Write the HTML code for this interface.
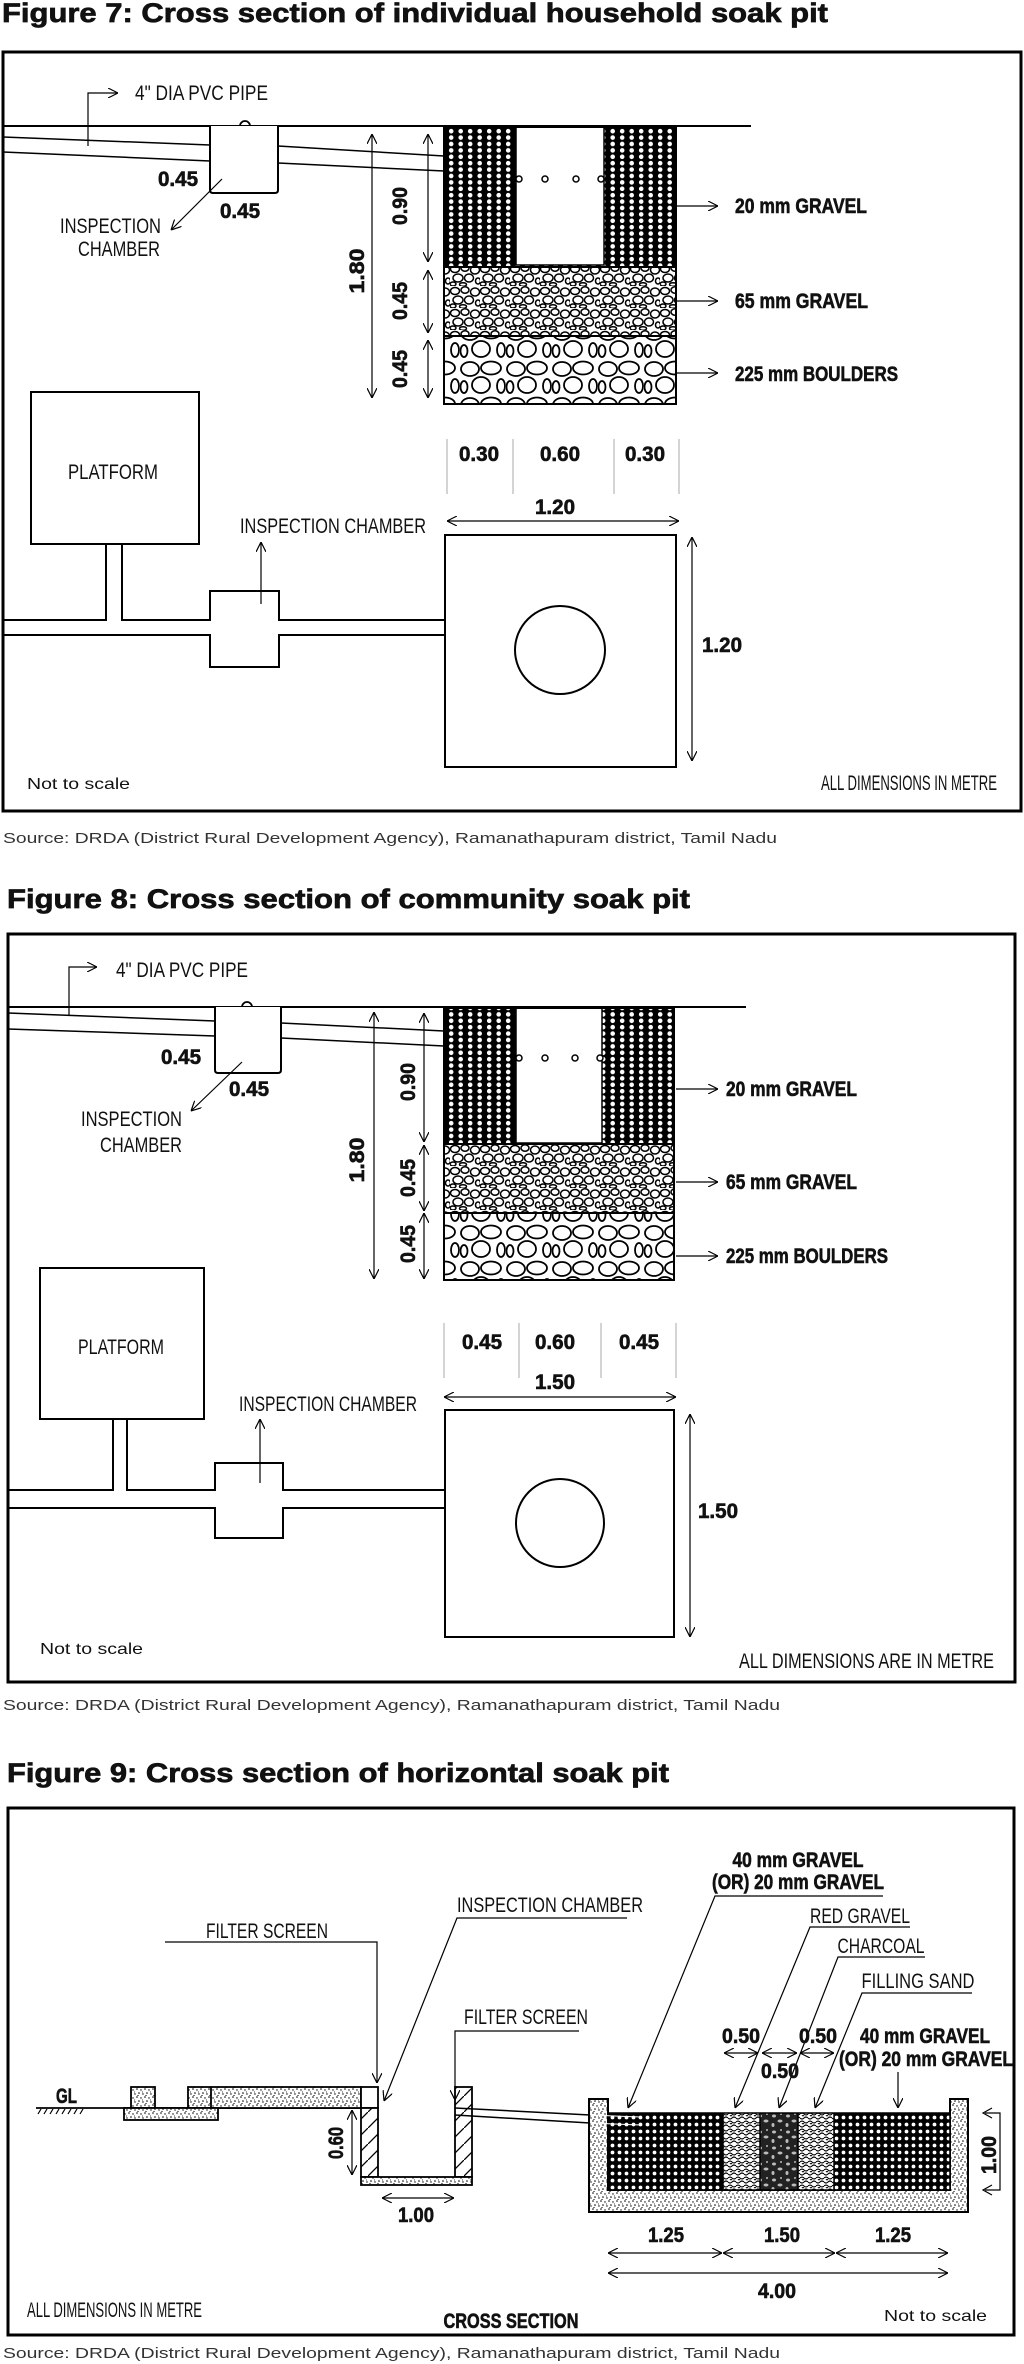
<!DOCTYPE html>
<html><head><meta charset="utf-8"><style>
html,body{margin:0;padding:0;background:#fff}
svg{display:block}
text{font-family:"Liberation Sans Narrow","Liberation Sans",sans-serif;fill:#111}
.t{font-family:"Liberation Sans",sans-serif;font-weight:bold;font-size:27px;stroke:#111;stroke-width:.7px}
.s{font-family:"Liberation Sans",sans-serif;font-size:15px;fill:#333}
.n{font-size:21px}
.b{font-size:21px;font-weight:bold;stroke:#111;stroke-width:.6px}
.r{font-family:"Liberation Sans",sans-serif;font-size:16px}
</style></head><body>
<svg width="1024" height="2364" viewBox="0 0 1024 2364" xmlns="http://www.w3.org/2000/svg">
<defs>
<pattern id="g20" patternUnits="userSpaceOnUse" width="9.5" height="6.4"><rect width="9.5" height="6.4" fill="#000"/><circle cx="4.7" cy="3.2" r="2.3" fill="#fff"/></pattern>
<pattern id="g9" patternUnits="userSpaceOnUse" width="7" height="7"><rect width="7" height="7" fill="#000"/><circle cx="3.5" cy="3.5" r="1.9" fill="#fff"/></pattern>
<pattern id="g65" patternUnits="userSpaceOnUse" width="30" height="22"><rect width="30" height="22" fill="#fff"/><g fill="#fff" stroke="#000" stroke-width="1.5"><ellipse cx="5" cy="5" rx="4.5" ry="3.5"/><ellipse cx="15" cy="4" rx="4" ry="3.2"/><ellipse cx="25" cy="6" rx="4.5" ry="4"/><ellipse cx="8" cy="14" rx="5" ry="4"/><ellipse cx="19" cy="14" rx="4.5" ry="4"/><ellipse cx="28" cy="17" rx="2.5" ry="3"/><ellipse cx="3" cy="20" rx="3" ry="2"/><ellipse cx="13" cy="20.5" rx="3.5" ry="1.8"/></g></pattern>
<pattern id="bld" patternUnits="userSpaceOnUse" width="46" height="36"><rect width="46" height="36" fill="#fff"/><g fill="#fff" stroke="#000" stroke-width="1.8"><ellipse cx="10" cy="9" rx="9" ry="7"/><ellipse cx="31" cy="8" rx="10" ry="6.5"/><ellipse cx="21" cy="25" rx="9" ry="8"/><ellipse cx="41" cy="26" rx="4" ry="7"/><ellipse cx="4" cy="27" rx="3.5" ry="6"/></g></pattern>
<pattern id="snd" patternUnits="userSpaceOnUse" width="8" height="8"><rect width="8" height="8" fill="#fff"/><g fill="#000"><circle cx="1" cy="1" r=".8"/><circle cx="5" cy="2" r=".7"/><circle cx="3" cy="5" r=".8"/><circle cx="7" cy="6" r=".7"/><circle cx="2" cy="7.5" r=".6"/><circle cx="6.5" cy="4" r=".5"/></g></pattern>
<pattern id="red" patternUnits="userSpaceOnUse" width="8" height="8"><rect width="8" height="8" fill="#fff"/><path d="M0 2 q2 -2 4 0 t4 0 M0 6 q2 2 4 0 t4 0 M2 4 q1 -1 2 0" stroke="#000" stroke-width="1.1" fill="none"/></pattern>
<pattern id="chr" patternUnits="userSpaceOnUse" width="14" height="16"><rect width="14" height="16" fill="#222"/><g fill="#bbb"><ellipse cx="4" cy="4" rx="2" ry="1.5"/><ellipse cx="10" cy="9" rx="2.5" ry="1.5"/><ellipse cx="3" cy="13" rx="1.5" ry="2"/><circle cx="11" cy="2" r="1"/></g></pattern>
<pattern id="hat" patternUnits="userSpaceOnUse" width="16" height="16"><rect width="16" height="16" fill="#fff"/><path d="M0 16 L16 0" stroke="#000" stroke-width="1.3"/></pattern>
<marker id="a" viewBox="0 0 10 10" refX="10" refY="5" markerWidth="10" markerHeight="10" markerUnits="userSpaceOnUse" orient="auto-start-reverse"><path d="M0 0 L10 5 L0 10" fill="none" stroke="#000" stroke-width="1.2"/></marker>
</defs>

<!-- ============ FIGURE 7 ============ -->
<text class="t" x="2" y="22" textLength="826" lengthAdjust="spacingAndGlyphs">Figure 7: Cross section of individual household soak pit</text>
<rect x="3" y="52" width="1018" height="759" fill="none" stroke="#000" stroke-width="3"/>
<g stroke="#000" fill="none" stroke-width="1.5">
<line x1="3" y1="126" x2="751" y2="126" stroke-width="2"/>
<line x1="3" y1="137" x2="210" y2="145"/><line x1="3" y1="152" x2="210" y2="161"/>
<line x1="278" y1="146" x2="444" y2="156"/><line x1="278" y1="163" x2="444" y2="171"/>
<path d="M210 126 V190 Q210 193 213 193 H275 Q278 193 278 190 V126" fill="#fff" stroke-width="2"/>
<path d="M240 126 A5 5 0 0 1 250 126" stroke-width="1.8"/>
<polyline points="88,146 88,93 118,93" marker-end="url(#a)" stroke-width="1.2"/>
<line x1="222" y1="179" x2="171" y2="230" marker-end="url(#a)" stroke-width="1.2"/>
</g>
<text class="n" x="135" y="100" textLength="133" lengthAdjust="spacingAndGlyphs">4" DIA PVC PIPE</text>
<text class="b" x="158" y="186" textLength="40" lengthAdjust="spacingAndGlyphs">0.45</text>
<text class="b" x="220" y="218" textLength="40" lengthAdjust="spacingAndGlyphs">0.45</text>
<text class="n" x="60" y="233" textLength="101" lengthAdjust="spacingAndGlyphs">INSPECTION</text>
<text class="n" x="78" y="256" textLength="82" lengthAdjust="spacingAndGlyphs">CHAMBER</text>
<rect x="444" y="127" width="232" height="140" fill="url(#g20)"/>
<rect x="444" y="267" width="232" height="69" fill="url(#g65)"/>
<rect x="444" y="336" width="232" height="68" fill="url(#bld)"/>
<rect x="516" y="127" width="88" height="138" fill="#fff" stroke="#000" stroke-width="1.5"/>
<g fill="#fff" stroke="#000" stroke-width="1.5"><circle cx="519" cy="179" r="3"/><circle cx="545" cy="179" r="3"/><circle cx="576" cy="179" r="3"/><circle cx="601" cy="179" r="3"/></g>
<g stroke="#000" fill="none" stroke-width="2">
<rect x="444" y="127" width="232" height="277"/>
<line x1="444" y1="267" x2="676" y2="267"/><line x1="444" y1="336" x2="676" y2="336"/>
</g>
<g stroke="#000" stroke-width="1.2" fill="none">
<line x1="372" y1="134" x2="372" y2="398" marker-start="url(#a)" marker-end="url(#a)"/>
<line x1="428" y1="134" x2="428" y2="262" marker-start="url(#a)" marker-end="url(#a)"/>
<line x1="428" y1="270" x2="428" y2="333" marker-start="url(#a)" marker-end="url(#a)"/>
<line x1="428" y1="340" x2="428" y2="398" marker-start="url(#a)" marker-end="url(#a)"/>
<line x1="676" y1="206" x2="718" y2="206" marker-end="url(#a)"/>
<line x1="676" y1="301" x2="718" y2="301" marker-end="url(#a)"/>
<line x1="676" y1="373" x2="718" y2="373" marker-end="url(#a)"/>
<line x1="447" y1="521" x2="679" y2="521" marker-start="url(#a)" marker-end="url(#a)"/>
<line x1="692" y1="537" x2="692" y2="761" marker-start="url(#a)" marker-end="url(#a)"/>
</g>
<g stroke="#aaa" stroke-width="1"><line x1="447" y1="439" x2="447" y2="494"/><line x1="513" y1="439" x2="513" y2="494"/><line x1="614" y1="439" x2="614" y2="494"/><line x1="679" y1="439" x2="679" y2="494"/></g>
<text class="b" font-size="23" transform="translate(364,271) rotate(-90)" text-anchor="middle" textLength="45" lengthAdjust="spacingAndGlyphs">1.80</text>
<text class="b" transform="translate(407,206) rotate(-90)" text-anchor="middle" textLength="38" lengthAdjust="spacingAndGlyphs">0.90</text>
<text class="b" transform="translate(407,301) rotate(-90)" text-anchor="middle" textLength="38" lengthAdjust="spacingAndGlyphs">0.45</text>
<text class="b" transform="translate(407,369) rotate(-90)" text-anchor="middle" textLength="38" lengthAdjust="spacingAndGlyphs">0.45</text>
<text class="b" x="735" y="213" textLength="132" lengthAdjust="spacingAndGlyphs">20 mm GRAVEL</text>
<text class="b" x="735" y="308" textLength="133" lengthAdjust="spacingAndGlyphs">65 mm GRAVEL</text>
<text class="b" x="735" y="381" textLength="163" lengthAdjust="spacingAndGlyphs">225 mm BOULDERS</text>
<text class="b" x="479" y="461" text-anchor="middle" textLength="40" lengthAdjust="spacingAndGlyphs">0.30</text>
<text class="b" x="560" y="461" text-anchor="middle" textLength="40" lengthAdjust="spacingAndGlyphs">0.60</text>
<text class="b" x="645" y="461" text-anchor="middle" textLength="40" lengthAdjust="spacingAndGlyphs">0.30</text>
<text class="b" x="555" y="514" text-anchor="middle" textLength="40" lengthAdjust="spacingAndGlyphs">1.20</text>
<text class="b" x="722" y="652" text-anchor="middle" textLength="40" lengthAdjust="spacingAndGlyphs">1.20</text>
<g stroke="#000" fill="none" stroke-width="2">
<rect x="445" y="535" width="231" height="232"/>
<ellipse cx="560" cy="650" rx="45" ry="44"/>
<rect x="31" y="392" width="168" height="152"/>
<path d="M3 620 H106 V544 M122 544 V620 H210 V591 H279 V620 H445 M3 635 H210 V667 H279 V635 H445"/>
</g>
<line x1="261" y1="604" x2="261" y2="542" stroke="#000" stroke-width="1.2" marker-end="url(#a)"/>
<text class="n" x="113" y="479" text-anchor="middle" textLength="90" lengthAdjust="spacingAndGlyphs">PLATFORM</text>
<text class="n" x="333" y="533" text-anchor="middle" textLength="186" lengthAdjust="spacingAndGlyphs">INSPECTION CHAMBER</text>
<text class="r" x="27" y="789" textLength="103" lengthAdjust="spacingAndGlyphs">Not to scale</text>
<text class="n" font-size="17" x="997" y="790" text-anchor="end" textLength="176" lengthAdjust="spacingAndGlyphs">ALL DIMENSIONS IN METRE</text>
<text class="s" x="3" y="843" textLength="774" lengthAdjust="spacingAndGlyphs">Source: DRDA (District Rural Development Agency), Ramanathapuram district, Tamil Nadu</text>

<!-- ============ FIGURE 8 ============ -->
<text class="t" x="7" y="908" textLength="683" lengthAdjust="spacingAndGlyphs">Figure 8: Cross section of community soak pit</text>
<rect x="8" y="934" width="1007" height="748" fill="none" stroke="#000" stroke-width="3"/>
<g stroke="#000" fill="none" stroke-width="1.5">
<line x1="8" y1="1007" x2="746" y2="1007" stroke-width="2"/>
<line x1="8" y1="1013" x2="215" y2="1021"/><line x1="8" y1="1029" x2="215" y2="1036"/>
<line x1="281" y1="1023" x2="444" y2="1031"/><line x1="281" y1="1038" x2="444" y2="1046"/>
<path d="M215 1007 V1070 Q215 1073 218 1073 H278 Q281 1073 281 1070 V1007" fill="#fff" stroke-width="2"/>
<path d="M242 1007 A5 5 0 0 1 252 1007" stroke-width="1.8"/>
<polyline points="69,1016 69,967 97,967" marker-end="url(#a)" stroke-width="1.2"/>
<line x1="242" y1="1062" x2="191" y2="1111" marker-end="url(#a)" stroke-width="1.2"/>
</g>
<text class="n" x="116" y="977" textLength="132" lengthAdjust="spacingAndGlyphs">4" DIA PVC PIPE</text>
<text class="b" x="161" y="1064" textLength="40" lengthAdjust="spacingAndGlyphs">0.45</text>
<text class="b" x="229" y="1096" textLength="40" lengthAdjust="spacingAndGlyphs">0.45</text>
<text class="n" x="81" y="1126" textLength="101" lengthAdjust="spacingAndGlyphs">INSPECTION</text>
<text class="n" x="100" y="1152" textLength="82" lengthAdjust="spacingAndGlyphs">CHAMBER</text>
<rect x="444" y="1008" width="230" height="136" fill="url(#g20)"/>
<rect x="444" y="1144" width="230" height="69" fill="url(#g65)"/>
<rect x="444" y="1213" width="230" height="67" fill="url(#bld)"/>
<rect x="516" y="1008" width="86" height="135" fill="#fff" stroke="#000" stroke-width="1.5"/>
<g fill="#fff" stroke="#000" stroke-width="1.5"><circle cx="519" cy="1058" r="3"/><circle cx="545" cy="1058" r="3"/><circle cx="575" cy="1058" r="3"/><circle cx="600" cy="1058" r="3"/></g>
<g stroke="#000" fill="none" stroke-width="2">
<rect x="444" y="1008" width="230" height="272"/>
<line x1="444" y1="1144" x2="674" y2="1144"/><line x1="444" y1="1213" x2="674" y2="1213"/>
</g>
<g stroke="#000" stroke-width="1.2" fill="none">
<line x1="374" y1="1012" x2="374" y2="1279" marker-start="url(#a)" marker-end="url(#a)"/>
<line x1="424" y1="1013" x2="424" y2="1142" marker-start="url(#a)" marker-end="url(#a)"/>
<line x1="424" y1="1145" x2="424" y2="1211" marker-start="url(#a)" marker-end="url(#a)"/>
<line x1="424" y1="1213" x2="424" y2="1279" marker-start="url(#a)" marker-end="url(#a)"/>
<line x1="676" y1="1089" x2="718" y2="1089" marker-end="url(#a)"/>
<line x1="676" y1="1182" x2="718" y2="1182" marker-end="url(#a)"/>
<line x1="676" y1="1256" x2="718" y2="1256" marker-end="url(#a)"/>
<line x1="444" y1="1397" x2="676" y2="1397" marker-start="url(#a)" marker-end="url(#a)"/>
<line x1="690" y1="1414" x2="690" y2="1637" marker-start="url(#a)" marker-end="url(#a)"/>
</g>
<g stroke="#aaa" stroke-width="1"><line x1="444" y1="1323" x2="444" y2="1378"/><line x1="519" y1="1323" x2="519" y2="1378"/><line x1="601" y1="1323" x2="601" y2="1378"/><line x1="676" y1="1323" x2="676" y2="1378"/></g>
<text class="b" font-size="23" transform="translate(364,1160) rotate(-90)" text-anchor="middle" textLength="45" lengthAdjust="spacingAndGlyphs">1.80</text>
<text class="b" transform="translate(415,1082) rotate(-90)" text-anchor="middle" textLength="38" lengthAdjust="spacingAndGlyphs">0.90</text>
<text class="b" transform="translate(415,1178) rotate(-90)" text-anchor="middle" textLength="38" lengthAdjust="spacingAndGlyphs">0.45</text>
<text class="b" transform="translate(415,1244) rotate(-90)" text-anchor="middle" textLength="38" lengthAdjust="spacingAndGlyphs">0.45</text>
<text class="b" x="726" y="1096" textLength="131" lengthAdjust="spacingAndGlyphs">20 mm GRAVEL</text>
<text class="b" x="726" y="1189" textLength="131" lengthAdjust="spacingAndGlyphs">65 mm GRAVEL</text>
<text class="b" x="726" y="1263" textLength="162" lengthAdjust="spacingAndGlyphs">225 mm BOULDERS</text>
<text class="b" x="482" y="1349" text-anchor="middle" textLength="40" lengthAdjust="spacingAndGlyphs">0.45</text>
<text class="b" x="555" y="1349" text-anchor="middle" textLength="40" lengthAdjust="spacingAndGlyphs">0.60</text>
<text class="b" x="639" y="1349" text-anchor="middle" textLength="40" lengthAdjust="spacingAndGlyphs">0.45</text>
<text class="b" x="555" y="1389" text-anchor="middle" textLength="40" lengthAdjust="spacingAndGlyphs">1.50</text>
<text class="b" x="718" y="1518" text-anchor="middle" textLength="40" lengthAdjust="spacingAndGlyphs">1.50</text>
<g stroke="#000" fill="none" stroke-width="2">
<rect x="445" y="1410" width="229" height="227"/>
<ellipse cx="560" cy="1523" rx="44" ry="44"/>
<rect x="40" y="1268" width="164" height="151"/>
<path d="M8 1490 H113 V1419 M127 1419 V1490 H215 V1463 H283 V1490 H445 M8 1508 H215 V1538 H283 V1508 H445"/>
</g>
<line x1="260" y1="1483" x2="260" y2="1419" stroke="#000" stroke-width="1.2" marker-end="url(#a)"/>
<text class="n" x="121" y="1354" text-anchor="middle" textLength="86" lengthAdjust="spacingAndGlyphs">PLATFORM</text>
<text class="n" x="328" y="1411" text-anchor="middle" textLength="178" lengthAdjust="spacingAndGlyphs">INSPECTION CHAMBER</text>
<text class="r" x="40" y="1654" textLength="103" lengthAdjust="spacingAndGlyphs">Not to scale</text>
<text class="n" font-size="21" x="994" y="1668" text-anchor="end" textLength="255" lengthAdjust="spacingAndGlyphs">ALL DIMENSIONS ARE IN METRE</text>
<text class="s" x="3" y="1710" textLength="777" lengthAdjust="spacingAndGlyphs">Source: DRDA (District Rural Development Agency), Ramanathapuram district, Tamil Nadu</text>

<!-- ============ FIGURE 9 ============ -->
<text class="t" x="7" y="1782" textLength="662" lengthAdjust="spacingAndGlyphs">Figure 9: Cross section of horizontal soak pit</text>
<rect x="8" y="1808" width="1006" height="527" fill="none" stroke="#000" stroke-width="3"/>
<text class="b" x="56" y="2103" textLength="21" lengthAdjust="spacingAndGlyphs">GL</text>
<g stroke="#000" stroke-width="1.2"><line x1="36" y1="2108" x2="362" y2="2108" stroke-width="1.8"/>
<path d="M38 2114 l3 -5 M44 2114 l3 -5 M50 2114 l3 -5 M56 2114 l3 -5 M62 2114 l3 -5 M68 2114 l3 -5 M74 2114 l3 -5 M80 2114 l3 -5" fill="none"/></g>
<g stroke="#000" stroke-width="1.8">
<rect x="131" y="2087" width="24" height="21" fill="url(#snd)"/>
<rect x="188" y="2087" width="173" height="21" fill="url(#snd)"/>
<line x1="211" y1="2087" x2="211" y2="2108"/>
<rect x="124" y="2108" width="94" height="12" fill="url(#snd)"/>
<rect x="361" y="2087" width="17" height="21" fill="#fff"/>
<rect x="361" y="2108" width="17" height="69" fill="url(#hat)"/>
<rect x="455" y="2087" width="17" height="90" fill="url(#hat)"/>
<rect x="361" y="2177" width="111" height="8" fill="url(#snd)"/>
</g>
<g stroke="#000" stroke-width="1.5" fill="none">
<path d="M455 2108 L590 2115 M455 2115 L590 2123"/>
</g>
<path d="M589 2099 H608 V2190 H950 V2099 H968 V2212 H589 Z" fill="url(#snd)" stroke="#000" stroke-width="2"/>
<rect x="608" y="2113" width="115" height="77" fill="url(#g9)"/>
<rect x="723" y="2113" width="37" height="77" fill="url(#red)"/>
<rect x="760" y="2113" width="38" height="77" fill="url(#chr)"/>
<rect x="798" y="2113" width="36" height="77" fill="url(#red)"/>
<rect x="834" y="2113" width="116" height="77" fill="url(#g9)"/>
<g stroke="#000" stroke-width="1.5" fill="none"><rect x="608" y="2113" width="342" height="77"/><line x1="723" y1="2113" x2="723" y2="2190"/><line x1="760" y1="2113" x2="760" y2="2190"/><line x1="798" y1="2113" x2="798" y2="2190"/><line x1="834" y1="2113" x2="834" y2="2190"/>
<path d="M590 2115 L640 2117 M590 2123 L640 2125" stroke="#fff" stroke-width="1"/></g>
<g stroke="#000" stroke-width="1.2" fill="none">
<polyline points="165,1942 377,1942 377,2083" marker-end="url(#a)"/>
<polyline points="627,1918 457,1918 384,2101" marker-end="url(#a)"/>
<polyline points="579,2031 455,2031 455,2100" marker-end="url(#a)"/>
<polyline points="883,1896 715,1896 628,2108" marker-end="url(#a)"/>
<polyline points="910,1927 810,1927 735,2108" marker-end="url(#a)"/>
<polyline points="925,1957 838,1957 779,2108" marker-end="url(#a)"/>
<polyline points="972,1993 862,1993 815,2108" marker-end="url(#a)"/>
<line x1="898" y1="2072" x2="898" y2="2108" marker-end="url(#a)"/>
<line x1="724" y1="2053" x2="758" y2="2053" marker-start="url(#a)" marker-end="url(#a)"/>
<line x1="762" y1="2053" x2="797" y2="2053" marker-start="url(#a)" marker-end="url(#a)"/>
<line x1="800" y1="2053" x2="834" y2="2053" marker-start="url(#a)" marker-end="url(#a)"/>
<polyline points="985,2113 1000,2113 1000,2190 985,2190"/>
<path d="M992 2108 L983 2113 L992 2118 M992 2185 L983 2190 L992 2195"/>
<line x1="352" y1="2110" x2="352" y2="2175" marker-start="url(#a)" marker-end="url(#a)"/>
<line x1="382" y1="2198" x2="454" y2="2198" marker-start="url(#a)" marker-end="url(#a)"/>
<line x1="608" y1="2253" x2="722" y2="2253" marker-start="url(#a)" marker-end="url(#a)"/>
<line x1="723" y1="2253" x2="835" y2="2253" marker-start="url(#a)" marker-end="url(#a)"/>
<line x1="836" y1="2253" x2="948" y2="2253" marker-start="url(#a)" marker-end="url(#a)"/>
<line x1="608" y1="2273" x2="948" y2="2273" marker-start="url(#a)" marker-end="url(#a)"/>
</g>
<text class="n" x="267" y="1938" text-anchor="middle" textLength="122" lengthAdjust="spacingAndGlyphs">FILTER SCREEN</text>
<text class="n" x="550" y="1912" text-anchor="middle" textLength="186" lengthAdjust="spacingAndGlyphs">INSPECTION CHAMBER</text>
<text class="n" x="526" y="2024" text-anchor="middle" textLength="124" lengthAdjust="spacingAndGlyphs">FILTER SCREEN</text>
<text class="b" x="798" y="1867" text-anchor="middle" textLength="131" lengthAdjust="spacingAndGlyphs">40 mm GRAVEL</text>
<text class="b" x="798" y="1889" text-anchor="middle" textLength="172" lengthAdjust="spacingAndGlyphs">(OR) 20 mm GRAVEL</text>
<text class="n" x="860" y="1923" text-anchor="middle" textLength="100" lengthAdjust="spacingAndGlyphs">RED GRAVEL</text>
<text class="n" x="881" y="1953" text-anchor="middle" textLength="87" lengthAdjust="spacingAndGlyphs">CHARCOAL</text>
<text class="n" x="918" y="1988" text-anchor="middle" textLength="113" lengthAdjust="spacingAndGlyphs">FILLING SAND</text>
<text class="b" x="741" y="2043" text-anchor="middle" textLength="38" lengthAdjust="spacingAndGlyphs">0.50</text>
<text class="b" x="818" y="2043" text-anchor="middle" textLength="38" lengthAdjust="spacingAndGlyphs">0.50</text>
<text class="b" x="780" y="2078" text-anchor="middle" textLength="38" lengthAdjust="spacingAndGlyphs">0.50</text>
<text class="b" x="925" y="2043" text-anchor="middle" textLength="130" lengthAdjust="spacingAndGlyphs">40 mm GRAVEL</text>
<text class="b" x="926" y="2066" text-anchor="middle" textLength="174" lengthAdjust="spacingAndGlyphs">(OR) 20 mm GRAVEL</text>
<text class="b" transform="translate(996,2155) rotate(-90)" text-anchor="middle" textLength="38" lengthAdjust="spacingAndGlyphs">1.00</text>
<text class="b" transform="translate(343,2143) rotate(-90)" text-anchor="middle" textLength="32" lengthAdjust="spacingAndGlyphs">0.60</text>
<text class="b" x="416" y="2222" text-anchor="middle" textLength="36" lengthAdjust="spacingAndGlyphs">1.00</text>
<text class="b" x="666" y="2242" text-anchor="middle" textLength="36" lengthAdjust="spacingAndGlyphs">1.25</text>
<text class="b" x="782" y="2242" text-anchor="middle" textLength="36" lengthAdjust="spacingAndGlyphs">1.50</text>
<text class="b" x="893" y="2242" text-anchor="middle" textLength="36" lengthAdjust="spacingAndGlyphs">1.25</text>
<text class="b" x="777" y="2298" text-anchor="middle" textLength="38" lengthAdjust="spacingAndGlyphs">4.00</text>
<text class="n" font-size="17" x="27" y="2317" textLength="175" lengthAdjust="spacingAndGlyphs">ALL DIMENSIONS IN METRE</text>
<text class="b" x="511" y="2328" text-anchor="middle" textLength="135" lengthAdjust="spacingAndGlyphs">CROSS SECTION</text>
<text class="r" x="987" y="2321" text-anchor="end" textLength="103" lengthAdjust="spacingAndGlyphs">Not to scale</text>
<text class="s" x="3" y="2358" textLength="777" lengthAdjust="spacingAndGlyphs">Source: DRDA (District Rural Development Agency), Ramanathapuram district, Tamil Nadu</text>
</svg>
</body></html>
